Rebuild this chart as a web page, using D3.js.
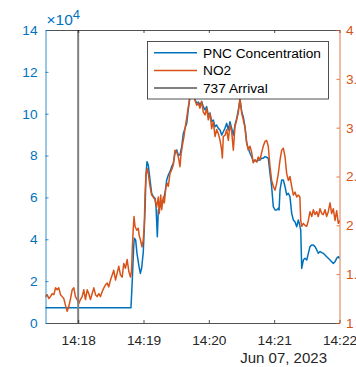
<!DOCTYPE html>
<html>
<head>
<meta charset="utf-8">
<script src="https://cdn.jsdelivr.net/npm/d3@7"></script>
<style>
  html, body { margin: 0; padding: 0; background: #fff; }
  svg { display: block; font-family: "Liberation Sans", Arial, Helvetica, sans-serif; }
</style>
</head>
<body>
<svg id="chart" width="356" height="367"></svg>
<script>
// Time window of the record: seconds after 14:17:30 on 2023-06-07
const startTime = new Date(2023, 5, 7, 14, 17, 30);
const endTime = new Date(2023, 5, 7, 14, 22, 0);
const arrivalTime = new Date(2023, 5, 7, 14, 18, 0);

// Particle number concentration (left axis)
const pncSec = [0, 15, 30, 45, 60, 78.5,
  79.7, 81.0, 81.6, 82.8, 84.0, 85.9, 87.1, 88.3, 89.8, 91.4, 92.3, 93.2, 94.4, 96.0,
  97.5, 99.0, 100.6, 101.5, 102.7, 103.6, 105.2, 106.7, 108.2, 109.7, 111.3, 112.8, 114.3, 115.9,
  117.4, 118.9, 120.5, 122.0, 123.5, 125.1, 126.6, 128.1, 129.7, 131.1, 132.7, 135.0, 137.3, 138.9,
  140.3, 141.9, 143.4, 144.9, 146.5, 148.0, 149.5, 151.1, 152.6, 154.1, 155.7, 157.2, 158.7, 160.3,
  161.8, 163.3, 164.8, 166.4, 167.9, 169.4, 171.0, 172.5, 174.0, 175.6, 177.1, 178.6, 180.2, 181.6,
  183.2, 184.8, 186.2, 187.8, 189.3, 190.8, 192.4, 194.0, 195.4, 197.0, 198.6, 200.0, 201.6, 203.1,
  204.6, 206.2, 207.7, 209.2, 210.8, 212.3, 213.8, 214.5, 215.4, 216.9, 218.4, 220.0, 221.5, 223.0,
  224.5, 226.1, 227.6, 229.1, 230.7, 232.2, 233.1, 234.4, 235.3, 236.8, 238.3, 239.9, 241.4, 242.9,
  244.5, 246.0, 247.5, 249.1, 250.5, 252.1, 253.7, 255.1, 256.7, 258.2, 259.7, 261.3, 262.8, 264.3,
  265.9, 267.4, 268.9, 269.8];
const pncValues = [7300, 7300, 7300, 7300, 7300, 7300,
  20500, 36500, 40500, 39700, 33300, 26900, 23700, 26300, 33900, 54000, 70700, 77100, 75500, 68300,
  62000, 60400, 59600, 55600, 41200, 54000, 55600, 58000, 58800, 62000, 68300, 70700, 72300, 74700,
  76300, 81100, 82700, 80300, 80300, 84200, 90600, 93000, 95400, 101800, 108100, 113200, 106600, 105000,
  105600, 104200, 105700, 103400, 101800, 103400, 99400, 100200, 96200, 97000, 93800, 94600, 93000, 92200,
  89800, 91400, 93000, 95400, 92200, 96200, 93000, 89800, 94600, 97800, 101800, 106600, 101000, 98600,
  93800, 85900, 83500, 81100, 79500, 77100, 77900, 77100, 77900, 77900, 78700, 78700, 79500, 79200,
  78700, 71500, 65100, 55600, 54000, 54000, 54800, 54000, 63600, 68300, 68300, 65100, 61200, 62000,
  60400, 52400, 49200, 48400, 46000, 49200, 47600, 44400, 26100, 30100, 30900, 30100, 33300, 36500,
  37300, 37300, 36500, 34900, 33300, 34100, 33600, 33300, 32500, 31700, 30900, 30100, 29300, 28500,
  29300, 30900, 31700, 30900];

// NO2 concentration (right axis)
const no2Sec = [0, 1.5, 3.1, 4.6, 6.1, 7.7, 9.2, 10.7, 12.2, 13.8, 15.3, 16.8, 18.4, 19.9, 21.4, 23.0,
  24.5, 26.0, 27.5, 29.1, 30.6, 32.1, 33.7, 35.2, 36.7, 38.3, 39.8, 41.3, 42.8, 44.4, 45.9, 47.4,
  49.0, 50.5, 52.0, 53.6, 55.1, 56.6, 58.1, 59.7, 61.2, 62.7, 64.3, 65.8, 67.3, 68.9, 70.4, 71.9,
  73.4, 75.0, 76.5, 78.0, 79.0, 79.8, 80.6, 81.3, 82.2, 83.8, 85.2, 86.0, 87.2, 88.6, 89.8, 90.7,
  91.4, 92.3, 93.5, 94.4, 96.0, 97.5, 99.0, 100.6, 102.1, 103.6, 104.5, 105.8, 106.7, 108.2, 109.1,
  110.7, 111.9, 112.8, 114.3, 115.9, 117.4, 118.9, 120.5, 122.0, 123.5, 124.4, 125.6, 127.2, 128.1,
  129.7, 131.1, 132.7, 135.0, 137.3, 138.9, 140.3, 141.9, 143.4, 144.9, 146.5, 148.0, 149.5, 151.1,
  152.6, 154.1, 155.7, 157.2, 158.7, 160.3, 161.8, 162.4, 163.3, 164.8, 166.4, 167.9, 169.4, 171.0,
  172.5, 174.0, 175.6, 177.1, 178.6, 180.2, 181.6, 183.2, 184.8, 186.2, 187.8, 189.3, 190.8, 192.4,
  194.0, 195.4, 197.0, 198.6, 200.0, 201.6, 203.1, 204.6, 206.2, 207.7, 209.2, 210.8, 212.3, 213.8,
  215.4, 216.9, 218.4, 220.0, 221.5, 223.0, 224.5, 226.1, 227.6, 229.1, 230.7, 232.2, 233.6, 234.4,
  235.3, 236.8, 238.3, 239.9, 241.4, 242.9, 244.5, 246.0, 247.5, 249.1, 250.5, 252.1, 253.7, 255.1,
  256.7, 258.2, 259.7, 261.3, 262.8, 264.3, 265.9, 267.4, 268.9, 270];
const no2Values = [1.27, 1.29, 1.25, 1.27, 1.30, 1.29, 1.36, 1.34, 1.36, 1.29, 1.27, 1.25, 1.18, 1.12, 1.17, 1.25,
  1.34, 1.36, 1.27, 1.24, 1.20, 1.24, 1.27, 1.34, 1.24, 1.34, 1.30, 1.24, 1.30, 1.36, 1.29, 1.27,
  1.30, 1.27, 1.32, 1.36, 1.39, 1.41, 1.37, 1.44, 1.49, 1.54, 1.44, 1.51, 1.58, 1.49, 1.47, 1.61,
  1.56, 1.65, 1.53, 1.47, 1.53, 1.78, 1.97, 2.09, 1.99, 1.95, 1.97, 1.90, 1.85, 1.78, 1.85, 2.00,
  2.31, 2.53, 2.58, 2.53, 2.40, 2.31, 2.29, 2.26, 2.19, 2.29, 2.12, 2.31, 2.16, 2.29, 2.23,
  2.40, 2.43, 2.40, 2.53, 2.57, 2.62, 2.77, 2.75, 2.70, 2.60, 2.72, 2.81, 2.91, 2.99,
  3.10, 3.21, 3.32, 3.45, 3.28, 3.23, 3.25, 3.20, 3.27, 3.16, 3.13, 3.20, 3.08, 3.15,
  2.99, 3.06, 2.91, 2.98, 2.94, 2.87, 2.77, 2.69, 2.91, 2.92, 2.98, 2.87, 3.03, 2.96,
  2.77, 3.01, 3.08, 3.16, 3.30, 3.15, 3.08, 3.00, 2.84, 2.77, 2.81, 2.75, 2.64, 2.67,
  2.65, 2.70, 2.67, 2.75, 2.81, 2.86, 2.87, 2.81, 2.60, 2.46, 2.40, 2.36, 2.43, 2.53,
  2.67, 2.77, 2.79, 2.70, 2.53, 2.46, 2.50, 2.40, 2.31, 2.34, 2.29, 2.31, 2.29, 2.05,
  1.99, 2.02, 2.00, 1.99, 2.05, 2.14, 2.09, 2.16, 2.11, 2.14, 2.09, 2.17, 2.12, 2.11,
  2.16, 2.09, 2.14, 2.23, 2.12, 2.17, 2.05, 2.15, 2.02, 2.05];

// Axis ticks
const pncTicks = [0, 20000, 40000, 60000, 80000, 100000, 120000, 140000];
const no2Ticks = [1, 1.5, 2, 2.5, 3, 3.5, 4];
const timeTicks = [18, 19, 20, 21, 22].map(m => new Date(2023, 5, 7, 14, m, 0));
const seriesNames = ["PNC Concentration", "NO2", "737 Arrival"];
const dateLabel = "Jun 07, 2023";

const BLUE = "#0072BD", ORANGE = "#D95319", GREY = "#808080", INK = "#262626";
const FS = 13.7;

const L = 45.5, R = 339.5, T = 30, B = 323;
const svg = d3.select("#chart");

const x = d3.scaleTime().domain([startTime, endTime]).range([L, R]);
const yL = d3.scaleLinear().domain([0, 140000]).range([B, T]);
const yR = d3.scaleLinear().domain([1, 4]).range([B, T]);
const toDate = s => new Date(startTime.getTime() + s * 1000);

const pncData = pncSec.map((s, i) => ({ t: toDate(s), v: pncValues[i] }));
const no2Data = no2Sec.map((s, i) => ({ t: toDate(s), v: no2Values[i] }));

// Series lines
svg.append("path").datum(pncData)
  .attr("fill", "none").attr("stroke", BLUE).attr("stroke-width", 1.5)
  .attr("stroke-linejoin", "round")
  .attr("d", d3.line().x(d => x(d.t)).y(d => yL(d.v)));
svg.append("path").datum(no2Data)
  .attr("fill", "none").attr("stroke", ORANGE).attr("stroke-width", 1.5)
  .attr("stroke-linejoin", "round")
  .attr("d", d3.line().x(d => x(d.t)).y(d => yR(d.v)));

// Arrival marker
svg.append("line")
  .attr("x1", x(arrivalTime)).attr("x2", x(arrivalTime))
  .attr("y1", T).attr("y2", B)
  .attr("stroke", GREY).attr("stroke-width", 2);

function styleAxis(g, color) {
  g.select(".domain").attr("stroke", color).attr("stroke-width", 0.8);
  g.selectAll(".tick line").attr("stroke", color).attr("stroke-width", 0.8);
  g.selectAll(".tick text").attr("fill", color)
    .attr("font-size", FS).attr("font-family", "Liberation Sans, Arial, sans-serif");
}

// Bottom axis
const gx = svg.append("g").attr("transform", `translate(0,${B})`)
  .call(d3.axisBottom(x).tickValues(timeTicks).tickFormat(d3.timeFormat("%H:%M"))
    .tickSizeInner(-3).tickSizeOuter(0).tickPadding(12));
styleAxis(gx, INK);

// Top frame with inward ticks
const gt = svg.append("g").attr("transform", `translate(0,${T})`)
  .call(d3.axisTop(x).tickValues(timeTicks).tickFormat("")
    .tickSizeInner(-3).tickSizeOuter(0));
styleAxis(gt, INK);

// Left axis (PNC)
const gl = svg.append("g").attr("transform", `translate(${L},0)`)
  .call(d3.axisLeft(yL).tickValues(pncTicks).tickFormat(d => d / 10000)
    .tickSizeInner(-3).tickSizeOuter(0).tickPadding(8));
styleAxis(gl, BLUE);

// Right axis (NO2)
const gr = svg.append("g").attr("transform", `translate(${R},0)`)
  .call(d3.axisRight(yR).tickValues(no2Ticks).tickFormat(d => String(d))
    .tickSizeInner(-3).tickSizeOuter(0).tickPadding(6.5));
styleAxis(gr, ORANGE);

// Exponent for the left axis
const ex = svg.append("text").attr("x", 46.5).attr("y", 25)
  .attr("fill", BLUE).attr("font-size", 15.5);
ex.append("tspan").text("\u00d710");
ex.append("tspan").attr("dy", -6).attr("font-size", 13).text("4");

// Date under the time axis
svg.append("text").attr("x", 327).attr("y", 363)
  .attr("text-anchor", "end").attr("fill", INK).attr("font-size", 15)
  .text(dateLabel);

// Legend
const lg = svg.append("g");
lg.append("rect").attr("x", 147.5).attr("y", 41.5).attr("width", 181).attr("height", 57.5)
  .attr("fill", "#fff").attr("stroke", INK).attr("stroke-width", 0.8);
const legendColors = [BLUE, ORANGE, GREY];
const legendWidths = [1.5, 1.5, 2];
seriesNames.forEach((name, i) => {
  const cy = 52.7 + i * 17.7;
  lg.append("line").attr("x1", 154).attr("x2", 197).attr("y1", cy).attr("y2", cy)
    .attr("stroke", legendColors[i]).attr("stroke-width", legendWidths[i]);
  lg.append("text").attr("x", 203).attr("y", cy + 5)
    .attr("fill", "#000").attr("font-size", FS).text(name);
});
</script>
</body>
</html>
